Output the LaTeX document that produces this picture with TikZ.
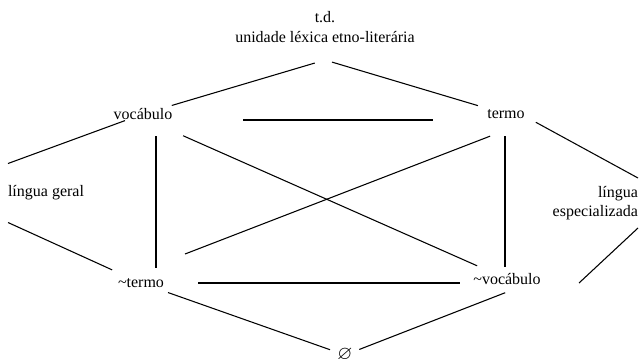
\documentclass[tikz,border=0pt]{standalone}
\usepackage{fontspec}
\setmainfont{Liberation Serif}
\usepackage{amssymb}
\tikzset{
	lbl/.style={inner sep=0pt, outer sep=0pt, font=\fontsize{12}{14.5}\selectfont},
	conn/.style={line width=0.8pt}
}

\begin{document}
\begin{tikzpicture}[x=0.75pt, y=-0.75pt]
			%%%%% START %%%%%
			\useasboundingbox (0, 0) rectangle (641, 361);
			
			\node[lbl, align=center] (td) at (325, 27) {t.d.\\unidade léxica etno-literária};
			\coordinate (apex) at (325, 60);
			
			\node[lbl] (voc) at (143, 114) {vocábulo};
			\node[lbl] (term) at (506, 114) {termo};
			
			\node[lbl, anchor=west, minimum height=44.25pt] (lg) at (8, 193) {língua geral};
			\node[lbl, anchor=east, align=right, minimum height=37.5pt] (le) at (638, 203) {língua\\especializada};
			
			\node[lbl] (nterm) at (141, 283) {\textasciitilde termo};
			\node[lbl] (nvoc) at (507, 279) {\textasciitilde vocábulo};
			
			\node[lbl, font=\fontsize{14.5}{16}\selectfont] (empty) at (345, 355) {$\varnothing$};
			
			\draw[conn, shorten <=8pt, shorten >=22.5pt] (apex) -- (voc.center);
			\draw[conn, shorten <=5.5pt, shorten >=22pt] (apex) -- (term.center);
			\draw[conn, shorten <=75pt, shorten >=54.75pt] ([yshift=-4.5pt]voc.center) -- ([yshift=-4.5pt]term.center);
			
			\draw[conn, shorten <=14.4pt] (voc.center) -- (lg.north west);
			\draw[conn, shorten >=23.8pt] (lg.south west) -- (nterm.center);
			\draw[conn, shorten <=25.5pt] ([yshift=6pt]term.center) -- (le.north east);
			\draw[conn] (le.south east) -- ([xshift=54pt, yshift=-3pt]nvoc.center);
			
			\draw[conn, shorten <=16.5pt, shorten >=11.25pt] ([xshift=9.75pt]voc.center) -- ([xshift=11.25pt]nterm.center);
			\draw[conn, shorten <=16.5pt, shorten >=9pt] ([xshift=-0.75pt]term.center) -- ([xshift=-1.5pt]nvoc.center);
			\draw[conn, shorten <=32.9pt, shorten >=24.5pt] ([yshift=-3pt]voc.center) -- (nvoc.center);
			\draw[conn, shorten <=35.4pt, shorten >=12.8pt] ([yshift=9pt]nterm.center) -- ([yshift=-12pt]term.center);
			
			\draw[conn, shorten <=42.75pt, shorten >=35.25pt] (nterm.center) -- (nterm.center -| nvoc.center);
			\draw[conn, shorten <=21.5pt, shorten >=11.9pt] (nterm.center) -- (empty.center);
			\draw[conn, shorten <=11.5pt, shorten >=1.5pt] (empty.center) -- ([yshift=-9.75pt]nvoc.center);
			
			%%%%% END %%%%%
\end{tikzpicture}
\end{document}
